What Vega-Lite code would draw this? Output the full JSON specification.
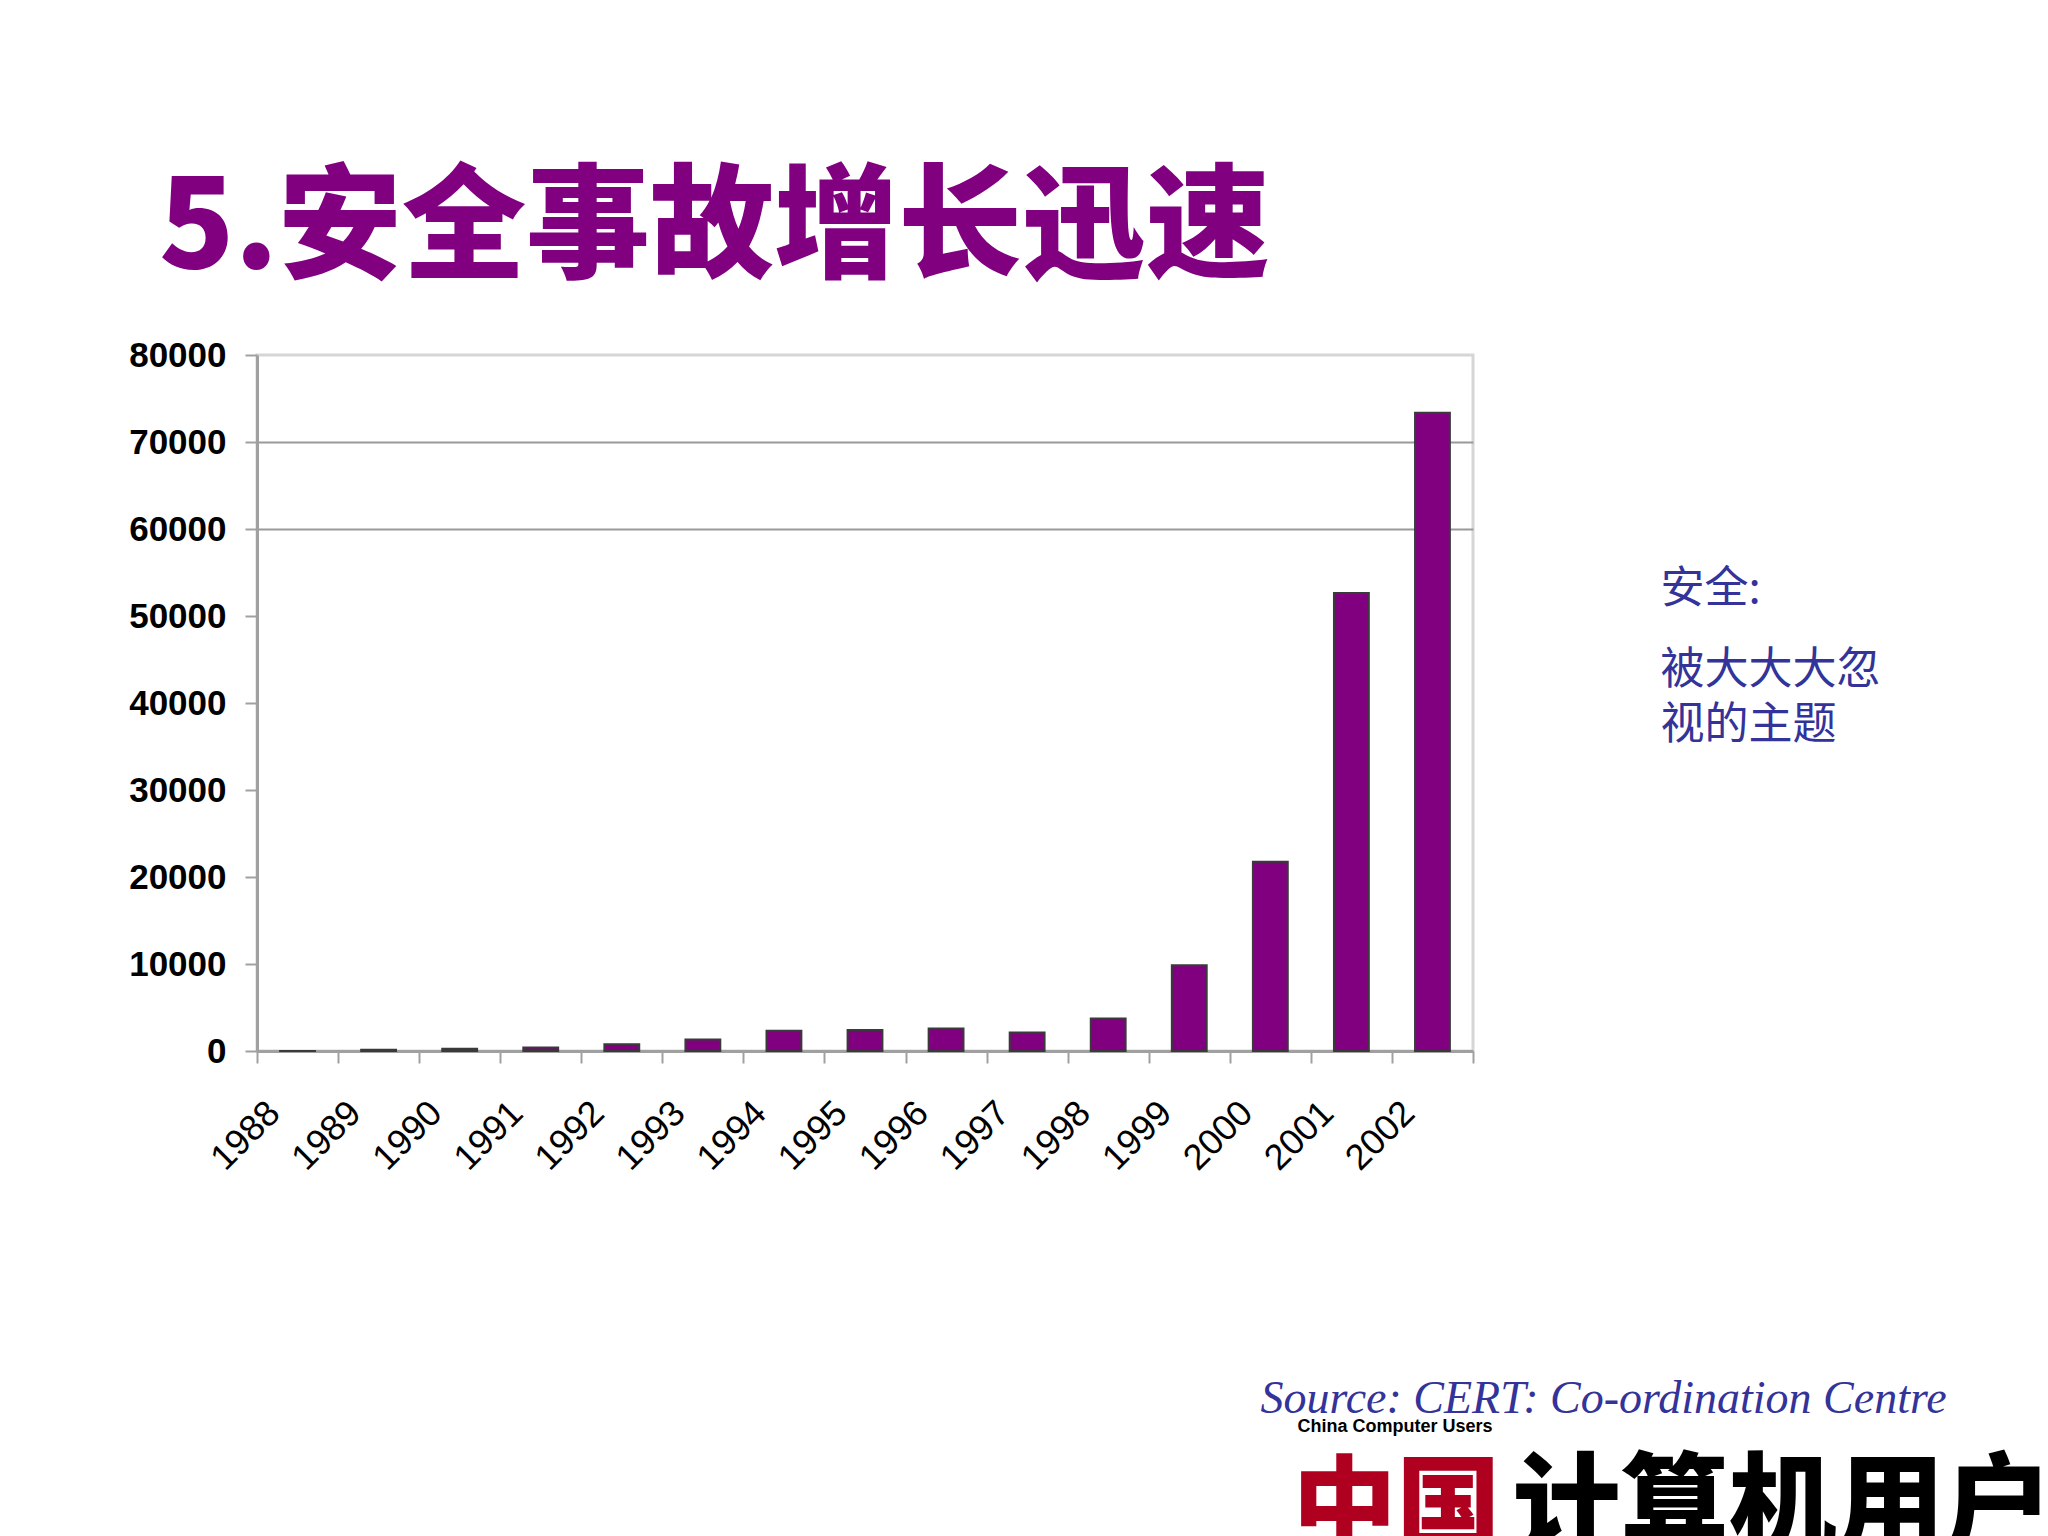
{
  "$schema": "https://vega.github.io/schema/vega-lite/v6.json",
  "width": 1216,
  "height": 696,
  "autosize": {"type": "none"},
  "padding": {"left": 257, "top": 355, "right": 575, "bottom": 485},
  "background": "white",
  "title": {
    "text": "5.安全事故增长迅速",
    "anchor": "start",
    "frame": "group",
    "dx": -98,
    "offset": 44,
    "font": "Noto Sans CJK SC",
    "fontSize": 124,
    "fontWeight": 900,
    "color": "#800080"
  },
  "config": {
    "view": {"stroke": "#d6d6d6", "strokeWidth": 3, "fill": "white"},
    "axis": {
      "labelFont": "Liberation Sans",
      "labelFontSize": 35,
      "labelFontWeight": "bold",
      "labelColor": "#000000",
      "domainColor": "#a0a0a0",
      "domainWidth": 3,
      "tickColor": "#a0a0a0",
      "tickWidth": 2,
      "tickSize": 12
    }
  },
  "layer": [
    {
      "data": {
        "values": [
          {"year": "1988", "incidents": 6},
          {"year": "1989", "incidents": 132},
          {"year": "1990", "incidents": 252},
          {"year": "1991", "incidents": 406},
          {"year": "1992", "incidents": 773},
          {"year": "1993", "incidents": 1334},
          {"year": "1994", "incidents": 2340},
          {"year": "1995", "incidents": 2412},
          {"year": "1996", "incidents": 2573},
          {"year": "1997", "incidents": 2134},
          {"year": "1998", "incidents": 3734},
          {"year": "1999", "incidents": 9859},
          {"year": "2000", "incidents": 21756},
          {"year": "2001", "incidents": 52658},
          {"year": "2002", "incidents": 73359}
        ]
      },
      "mark": {"type": "bar", "width": {"band": 0.43}, "fill": "#800080", "stroke": "#3a3a3a", "strokeWidth": 2},
      "encoding": {
        "x": {
          "field": "year",
          "type": "nominal",
          "sort": null,
          "scale": {"paddingInner": 0, "paddingOuter": 0},
          "axis": {
            "title": null,
            "labelAngle": -45,
            "labelAlign": "right",
            "labelBaseline": "middle",
            "labelPadding": 44,
            "labelOffset": -24,
            "labelFontWeight": "normal",
            "labelFontSize": 36,
            "tickBand": "extent",
            "grid": false
          }
        },
        "y": {
          "field": "incidents",
          "type": "quantitative",
          "scale": {"domain": [0, 80000], "nice": false},
          "axis": {
            "title": null,
            "values": [0, 10000, 20000, 30000, 40000, 50000, 60000, 70000, 80000],
            "format": "d",
            "labelPadding": 19,
            "grid": true,
            "gridColor": "#9a9a9a",
            "gridWidth": 2,
            "gridOpacity": {"condition": {"test": "datum.value == 60000 || datum.value == 70000", "value": 1}, "value": 0}
          }
        }
      }
    },
    {
      "data": {"values": [{"label": "安全:", "pos": 52989}, {"label": "被大大大忽", "pos": 43679}, {"label": "视的主题", "pos": 37357}]},
      "mark": {"type": "text", "align": "left", "baseline": "middle", "dx": 228, "font": "Noto Sans CJK SC", "fontSize": 44, "color": "#333399"},
      "encoding": {
        "x": {"datum": "2002", "type": "nominal"},
        "y": {"field": "pos", "type": "quantitative"},
        "text": {"field": "label"}
      }
    },
    {
      "data": {"values": [{"label": "Source: CERT: Co-ordination Centre", "pos": -41607}]},
      "mark": {"type": "text", "align": "left", "baseline": "alphabetic", "dx": -172, "font": "Liberation Serif", "fontStyle": "italic", "fontSize": 46, "color": "#333399"},
      "encoding": {
        "x": {"datum": "2002", "type": "nominal"},
        "y": {"field": "pos", "type": "quantitative"},
        "text": {"field": "label"}
      }
    },
    {
      "data": {"values": [{"label": "China Computer Users", "pos": -43200}]},
      "mark": {"type": "text", "align": "left", "baseline": "middle", "dx": -135, "font": "Liberation Sans", "fontWeight": "bold", "fontSize": 18, "color": "#000000"},
      "encoding": {
        "x": {"datum": "2002", "type": "nominal"},
        "y": {"field": "pos", "type": "quantitative"},
        "text": {"field": "label"}
      }
    },
    {
      "data": {"values": [{"label": "中国", "pos": -56500}]},
      "mark": {"type": "text", "align": "left", "baseline": "alphabetic", "dx": -140, "font": "Noto Sans CJK SC", "fontWeight": 900, "fontSize": 104, "color": "#b00020"},
      "encoding": {
        "x": {"datum": "2002", "type": "nominal"},
        "y": {"field": "pos", "type": "quantitative"},
        "text": {"field": "label"}
      }
    },
    {
      "data": {"values": [{"label": "计算机用户", "pos": -56500}]},
      "mark": {"type": "text", "align": "left", "baseline": "alphabetic", "dx": 80, "font": "Noto Sans CJK SC", "fontWeight": 900, "fontSize": 108, "color": "#000000"},
      "encoding": {
        "x": {"datum": "2002", "type": "nominal"},
        "y": {"field": "pos", "type": "quantitative"},
        "text": {"field": "label"}
      }
    }
  ]
}
